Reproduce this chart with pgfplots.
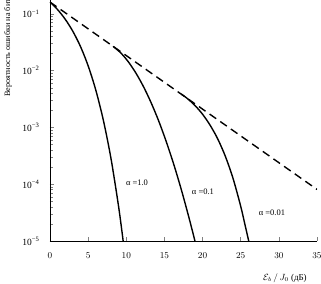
\documentclass[border=0pt]{standalone}
\usepackage{fontspec}
\setmainfont{Liberation Serif}
\usepackage{pgfplots}
\pgfplotsset{compat=1.18}
\begin{document}
\begin{tikzpicture}
\begin{axis}[
  scale only axis,
  width=267bp, height=241bp,
  at={(0,0)}, anchor=south west,
  ymode=log,
  xmin=0, xmax=35,
  ymin=1e-5, ymax=0.176,
  axis lines=left,
  axis line style={-, line width=0.6pt},
  xtick={0,5,10,15,20,25,30,35},
  ytick={1e-5,1e-4,1e-3,1e-2,1e-1},
  yticklabels={10\textsuperscript{−5},10\textsuperscript{−4},10\textsuperscript{−3},10\textsuperscript{−2},10\textsuperscript{−1}},
  minor y tick num=0,
  tick align=inside,
  major tick length=4bp,
  tick style={line width=0.5pt},
  x tick label style={font=\fontsize{9.5}{11}\selectfont, yshift=-8bp},
  y tick label style={font=\fontsize{9.5}{11}\selectfont, xshift=-7bp},
  xlabel={$\mathcal{E}_b\,/\,J_0$ (дБ)},
  xlabel style={at={(axis description cs:0.88,0)}, anchor=center, yshift=-37bp, font=\fontsize{9}{10}\selectfont},
  ylabel={Вероятность ошибки на бит $P_b$},
  ylabel style={at={(axis description cs:-0.157,0.585)}, anchor=west, rotate=0, font=\fontsize{8.2}{10}\selectfont},
  clip=true,
]
\addplot[black, line width=1.4pt, dash pattern=on 8bp off 5bp] coordinates {(0,0.162) (35,8.1e-5)};
% alpha = 1.0
\addplot[black, line width=1.4pt, smooth] coordinates {
(0,0.162) (1,0.119) (2,0.0805) (3,0.0493) (4,0.0266) (5,0.0122) (6,0.00457)
(7,0.00133) (8,2.81e-4) (9,3.98e-5) (9.59,1e-5)};
% alpha = 0.1
\addplot[black, line width=1.4pt, smooth] coordinates {
(8.26,0.0269) (9.26,0.0207) (10.26,0.0144) (11.26,0.00910) (12.26,0.00522) (13.26,0.00272)
(14.26,0.00129) (15.26,5.53e-4) (16.26,2.16e-4) (17.26,7.64e-5) (18.26,2.45e-5) (19.0,1e-5)};
% alpha = 0.01
\addplot[black, line width=1.4pt, smooth] coordinates {
(17.2,0.00389) (18,0.00324) (19,0.00244) (20,0.00171) (21,0.00109) (22,6.24e-4)
(23,3.07e-4) (24,1.26e-4) (25,4.09e-5) (25.5,2.10e-5) (26.05,1e-5)};
\node[font=\fontsize{8.5}{10}\selectfont] at (axis cs:11.4,1.06e-4) {α =1.0};
\node[font=\fontsize{8.5}{10}\selectfont] at (axis cs:20.05,7.4e-5) {α =0.1};
\node[font=\fontsize{8.5}{10}\selectfont] at (axis cs:29.1,3.2e-5) {α =0.01};
\end{axis}
\pgfresetboundingbox
\path[use as bounding box] (-50bp,-43bp) rectangle (271bp,241bp);
\end{tikzpicture}
\end{document}
